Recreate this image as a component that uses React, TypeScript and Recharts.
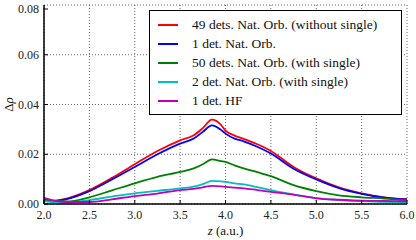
import React from "react";
import {
  LineChart, Line, XAxis, YAxis, CartesianGrid, Legend,
} from "recharts";

// z positions (a.u.) sampled along the curves
const Z = [2.0, 2.1, 2.25, 2.5, 2.75, 3.0, 3.25, 3.5, 3.65, 3.75, 3.85, 3.95, 4.0, 4.1, 4.2, 4.35, 4.5, 4.75, 5.0, 5.25, 5.5, 5.75, 6.0];

const RED   = [0.0019, 0.0013, 0.0022, 0.0056, 0.0105, 0.0160, 0.0213, 0.0256, 0.0276, 0.0305, 0.0339, 0.0318, 0.0295, 0.0275, 0.0262, 0.0240, 0.0213, 0.0149, 0.0103, 0.0067, 0.0043, 0.0027, 0.0019];
const BLUE  = [0.0017, 0.0012, 0.0020, 0.0052, 0.0099, 0.0149, 0.0200, 0.0243, 0.0263, 0.0290, 0.0316, 0.0298, 0.0283, 0.0263, 0.0252, 0.0230, 0.0203, 0.0142, 0.0099, 0.0064, 0.0041, 0.0026, 0.0018];
const GREEN = [0.0016, 0.0012, 0.0010, 0.0027, 0.0055, 0.0083, 0.0109, 0.0129, 0.0143, 0.0160, 0.0179, 0.0172, 0.0169, 0.0155, 0.0143, 0.0128, 0.0112, 0.0076, 0.0052, 0.0035, 0.0027, 0.0022, 0.0015];
const CYAN  = [0.0012, 0.0007, 0.0005, 0.0016, 0.0030, 0.0043, 0.0053, 0.0063, 0.0070, 0.0080, 0.0093, 0.0091, 0.0089, 0.0083, 0.0079, 0.0068, 0.0056, 0.0038, 0.0024, 0.0016, 0.0012, 0.0009, 0.0008];
const MAG   = [0.0025, 0.0015, 0.0008, 0.0008, 0.0019, 0.0032, 0.0042, 0.0056, 0.0061, 0.0067, 0.0073, 0.0071, 0.0069, 0.0066, 0.0063, 0.0056, 0.0049, 0.0038, 0.0023, 0.0017, 0.0013, 0.0012, 0.0011];

const X_TICKS = [2.0, 2.5, 3.0, 3.5, 4.0, 4.5, 5.0, 5.5, 6.0];
const Y_TICKS = [0, 0.02, 0.04, 0.06, 0.08];

const SERIES = [
  { key: "red", name: "49 dets. Nat. Orb. (without single)", color: "#ff0000", values: RED },
  { key: "blue", name: "1 det. Nat. Orb.", color: "#0000ff", values: BLUE },
  { key: "green", name: "50 dets. Nat. Orb. (with single)", color: "#008000", values: GREEN },
  { key: "cyan", name: "2 det. Nat. Orb. (with single)", color: "#00bfbf", values: CYAN },
  { key: "mag", name: "1 det. HF", color: "#bf00bf", values: MAG },
];

const data = Z.map((z, i) => {
  const row: Record<string, number> = { z };
  SERIES.forEach((s) => (row[s.key] = s.values[i]));
  return row;
});

const FONT = "'Liberation Serif', serif";

const BottomTick = ({ x, y, payload }: any) => (
  <g>
    <line x1={x} x2={x} y1={y} y2={y - 4} stroke="#000" />
    <text x={x} y={y + 15} textAnchor="middle" fontSize={12} fontFamily={FONT} fill="#222">
      {payload.value.toFixed(1)}
    </text>
  </g>
);
const TopTick = ({ x, y }: any) => <line x1={x} x2={x} y1={y} y2={y + 4} stroke="#000" />;
const LeftTick = ({ x, y, payload }: any) => (
  <g>
    <line x1={x} x2={x + 4} y1={y} y2={y} stroke="#000" />
    <text x={x - 5} y={y + 4} textAnchor="end" fontSize={12} fontFamily={FONT} fill="#222">
      {payload.value.toFixed(2)}
    </text>
  </g>
);
const RightTick = ({ x, y }: any) => <line x1={x} x2={x - 4} y1={y} y2={y} stroke="#000" />;

const LegendBox = () => (
  <div style={{ border: "1px solid #000", background: "#fff", padding: "4px 0 4px 8px", fontFamily: FONT, fontSize: 13.5, color: "#111", textAlign: "left", whiteSpace: "nowrap" }}>
    {SERIES.map((s) => (
      <div key={s.key} style={{ display: "flex", alignItems: "center", height: 19 }}>
        <span style={{ display: "inline-block", width: 20, height: 2, background: s.color, marginRight: 14 }} />
        <span>{s.name}</span>
      </div>
    ))}
  </div>
);

export default function App() {
  return (
    <div>
      <style>{"body{margin:0}"}</style>
      <LineChart width={416} height={240} data={data} margin={{ top: 5, right: 9, bottom: 0, left: 0 }}>
        <CartesianGrid stroke="#444" strokeDasharray="1 2" strokeWidth={0.8} />
        <XAxis
          dataKey="z" type="number" domain={[2, 6]} ticks={X_TICKS} height={36}
          tickSize={0} tickMargin={0} tickLine={false} tick={<BottomTick />}
          axisLine={{ stroke: "#000", strokeWidth: 1.5 }}
          label={{
            content: ({ viewBox }: any) => (
              <text x={viewBox.x + viewBox.width / 2} y={viewBox.y + 31} textAnchor="middle" fontSize={13} fontFamily={FONT} fill="#111">
                <tspan fontStyle="italic">z</tspan> (a.u.)
              </text>
            ),
          }}
        />
        <XAxis
          xAxisId="top" orientation="top" dataKey="z" type="number" domain={[2, 6]} ticks={X_TICKS} height={0}
          tickSize={0} tickMargin={0} tickLine={false} tick={<TopTick />}
          axisLine={{ stroke: "#000", strokeWidth: 1.5 }}
        />
        <YAxis
          type="number" domain={[0, 0.08]} ticks={Y_TICKS} width={44}
          tickSize={0} tickMargin={0} tickLine={false} tick={<LeftTick />}
          axisLine={{ stroke: "#000", strokeWidth: 1.5 }}
          label={{
            content: ({ viewBox }: any) => {
              const cx = 13;
              const cy = viewBox.y + viewBox.height / 2;
              return (
                <text x={cx} y={cy} transform={`rotate(-90 ${cx} ${cy})`} textAnchor="middle" fontSize={13} fontFamily={FONT} fill="#111">
                  Δ<tspan fontStyle="italic">ρ</tspan>
                </text>
              );
            },
          }}
        />
        <YAxis
          yAxisId="right" orientation="right" type="number" domain={[0, 0.08]} ticks={Y_TICKS} width={0}
          tickSize={0} tickMargin={0} tickLine={false} tick={<RightTick />}
          axisLine={{ stroke: "#000", strokeWidth: 1.5 }}
        />
        <Legend
          verticalAlign="middle" align="center" layout="vertical"
          content={<LegendBox />}
          wrapperStyle={{ top: 10, left: 149, width: 253 }}
        />
        {SERIES.map((s) => (
          <Line
            key={s.key} dataKey={s.key} name={s.name} type="monotone"
            stroke={s.color} strokeWidth={1.8} dot={false} isAnimationActive={false}
          />
        ))}
      </LineChart>
    </div>
  );
}
